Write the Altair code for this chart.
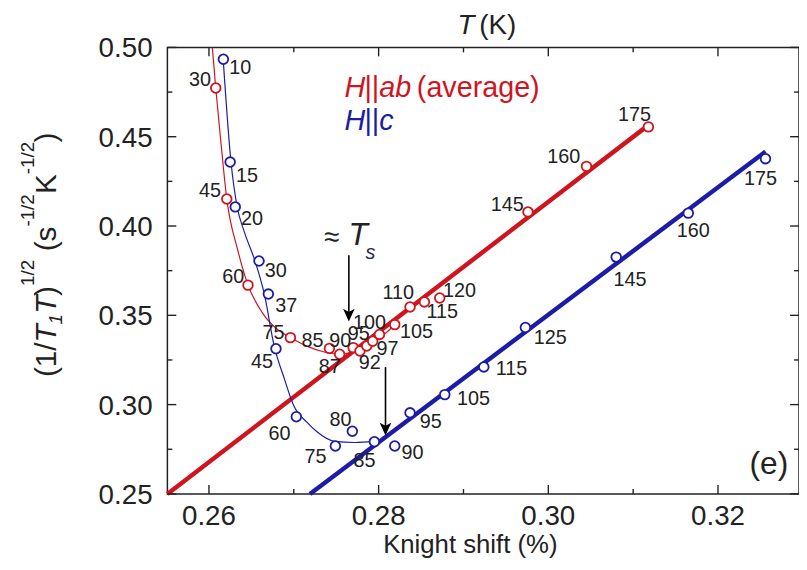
import altair as alt
import pandas as pd

# ---------------- data ----------------
# H || ab (average)
red_T = [30, 45, 60, 75, 85, 87, 90, 92, 95, 97, 100, 105, 110, 115, 120, 145, 160, 175]
red_K = [0.2608, 0.2621, 0.2646, 0.2696, 0.2742, 0.2754, 0.2770, 0.2778, 0.2786, 0.2793,
         0.2801, 0.2819, 0.2837, 0.2854, 0.2872, 0.2976, 0.3045, 0.3118]
red_R = [0.4773, 0.4151, 0.3669, 0.3375, 0.3315, 0.3282, 0.3319, 0.3300, 0.3328, 0.3355,
         0.3393, 0.3448, 0.3547, 0.3575, 0.3597, 0.4079, 0.4334, 0.4555]
# label offsets (pixels)
red_dx = [-16, -17, -15, -17, -17, -10, -13, 10, -8, 15, -10, 22, -12, 18, 20, -21, -23, -14]
red_dy = [-8, -8, -8, -5, -7, 13, -7, 12, -12, 8, -11, 8, -14, 10, -7, -7, -9, -12]

# H || c
blue_T = [10, 15, 20, 30, 37, 45, 60, 75, 80, 85, 90, 95, 105, 115, 125, 145, 160, 175]
blue_K = [0.2617, 0.2625, 0.2631, 0.2659, 0.2670, 0.2679, 0.2703, 0.2749, 0.2769, 0.2795,
          0.2819, 0.2837, 0.2878, 0.2924, 0.2973, 0.3080, 0.3165, 0.3256]
blue_R = [0.4934, 0.4358, 0.4107, 0.3804, 0.3619, 0.3313, 0.2932, 0.2768, 0.2851, 0.2792,
          0.2768, 0.2954, 0.3056, 0.3211, 0.3432, 0.3826, 0.4072, 0.4377]
blue_dx = [17, 17, 17, 17, 18, -14, -17, -20, -12, -10, 18, 21, 29, 28, 25, 14, 5, -5]
blue_dy = [9, 14, 12, 10, 12, 13, 17, 11, -11, 19, 7, 9, 4, 2, 11, 23, 18, 21]

# linear fits (end points)
red_fit_K = [0.2551, 0.3118]
red_fit_R = [0.2500, 0.4565]
blue_fit_K = [0.2719, 0.3256]
blue_fit_R = [0.2500, 0.4417]

# thin guide-to-the-eye curves
red_curve_K = [0.2604, 0.2608, 0.2614, 0.2621, 0.2634, 0.2646, 0.2663, 0.2681, 0.2696,
               0.2716, 0.2737, 0.2754, 0.2774, 0.2791, 0.2809, 0.2824]
red_curve_R = [0.5000, 0.4773, 0.4473, 0.4152, 0.3864, 0.3670, 0.3514, 0.3420, 0.3376,
               0.3326, 0.3293, 0.3282, 0.3304, 0.3348, 0.3404, 0.3465]
blue_curve_K = [0.2617, 0.2626, 0.2633, 0.2642, 0.2654, 0.2665, 0.2677, 0.2689, 0.2700,
                0.2716, 0.2727, 0.2748, 0.2772, 0.2795]
blue_curve_R = [0.4917, 0.4357, 0.4113, 0.3963, 0.3808, 0.3625, 0.3326, 0.3143, 0.2993,
                0.2899, 0.2849, 0.2794, 0.2788, 0.2794]

# arrows (x, y_start, y_head)
arrow_K = [0.27649, 0.28081]
arrow_R_top = [0.3836, 0.3210]
arrow_R_head = [0.3501, 0.2863]

# axis ticks and tick labels
x_major = [0.26, 0.28, 0.30, 0.32]
x_minor = [0.27, 0.29, 0.31]
y_major = [0.25, 0.30, 0.35, 0.40, 0.45, 0.50]
y_minor = [0.275, 0.325, 0.375, 0.425, 0.475]
x_labels = ["0.26", "0.28", "0.30", "0.32"]
y_labels = ["0.25", "0.30", "0.35", "0.40", "0.45", "0.50"]

# ---------------- styling ----------------
X_DOMAIN = [0.2551, 0.32955]
Y_DOMAIN = [0.25, 0.50]
W, H = 638, 451
RED = "#d0141e"
BLUE = "#1c1ca6"
INK = "#222222"
FONT = "Liberation Sans"

xs = alt.Scale(domain=X_DOMAIN, nice=False, zero=False)
ys = alt.Scale(domain=Y_DOMAIN, nice=False, zero=False)


def X(field):
    return alt.X(f"{field}:Q", scale=xs, axis=None)


def Y(field):
    return alt.Y(f"{field}:Q", scale=ys, axis=None)


layers = []

# thick linear fits
red_fit = pd.DataFrame({"K": red_fit_K, "R": red_fit_R})
blue_fit = pd.DataFrame({"K": blue_fit_K, "R": blue_fit_R})
layers.append(alt.Chart(red_fit).mark_line(color=RED, strokeWidth=4.5)
              .encode(x=X("K"), y=Y("R")))
layers.append(alt.Chart(blue_fit).mark_line(color=BLUE, strokeWidth=4.5)
              .encode(x=X("K"), y=Y("R")))

# thin curves
red_curve = pd.DataFrame({"K": red_curve_K, "R": red_curve_R})
blue_curve = pd.DataFrame({"K": blue_curve_K, "R": blue_curve_R})
layers.append(alt.Chart(red_curve).mark_line(color=RED, strokeWidth=1.2, interpolate="monotone", clip=True)
              .encode(x=X("K"), y=Y("R")))
layers.append(alt.Chart(blue_curve).mark_line(color=BLUE, strokeWidth=1.2, interpolate="monotone", clip=True)
              .encode(x=X("K"), y=Y("R")))

# points
red_df = pd.DataFrame({"T": red_T, "K": red_K, "R": red_R})
blue_df = pd.DataFrame({"T": blue_T, "K": blue_K, "R": blue_R})
for df, col in ((red_df, RED), (blue_df, BLUE)):
    layers.append(alt.Chart(df).mark_point(shape="circle", filled=True, fill="white",
                                           stroke=col, strokeWidth=1.8, size=95, opacity=1)
                  .encode(x=X("K"), y=Y("R")))

# point labels
for T, K, R, dxs, dys in ((red_T, red_K, red_R, red_dx, red_dy),
                          (blue_T, blue_K, blue_R, blue_dx, blue_dy)):
    for t, k, r, dx, dy in zip(T, K, R, dxs, dys):
        d = pd.DataFrame({"K": [k], "R": [r], "lab": [str(t)]})
        layers.append(alt.Chart(d).mark_text(font=FONT, fontSize=20, color=INK, align="center",
                                             baseline="middle", dx=dx, dy=dy)
                      .encode(x=X("K"), y=Y("R"), text="lab:N"))

# arrows
arr = pd.DataFrame({"K": arrow_K, "R": arrow_R_top, "R2": arrow_R_head})
layers.append(alt.Chart(arr).mark_rule(color="black", strokeWidth=1.6)
              .encode(x=X("K"), y=Y("R"), y2="R2:Q"))
layers.append(alt.Chart(arr).mark_point(shape="M0,1 L-0.9,-1 L0,-0.5 L0.9,-1 Z", filled=True,
                                        color="black", size=169, opacity=1)
              .encode(x=X("K"), y=Y("R2")))


# inward axis ticks (frame on all four sides)
def tick_layer(vals, side, length):
    d = pd.DataFrame({"v": vals})
    m = alt.Chart(d).mark_rule(color=INK, strokeWidth=1.4)
    if side == "bottom":
        return m.encode(x=X("v"), y=alt.value(H), y2=alt.value(H - length))
    if side == "top":
        return m.encode(x=X("v"), y=alt.value(0), y2=alt.value(length))
    if side == "left":
        return m.encode(y=Y("v"), x=alt.value(0), x2=alt.value(length))
    return m.encode(y=Y("v"), x=alt.value(W), x2=alt.value(W - length))


for side in ("bottom", "top"):
    layers.append(tick_layer(x_major, side, 9))
    layers.append(tick_layer(x_minor, side, 5))
for side in ("left", "right"):
    layers.append(tick_layer(y_major, side, 9))
    layers.append(tick_layer(y_minor, side, 5))

# tick labels
xl = pd.DataFrame({"v": x_major, "lab": x_labels})
yl = pd.DataFrame({"v": y_major, "lab": y_labels})
layers.append(alt.Chart(xl).mark_text(font=FONT, fontSize=28, color=INK, align="center",
                                      baseline="alphabetic")
              .encode(x=X("v"), y=alt.value(H + 31), text="lab:N"))
layers.append(alt.Chart(yl).mark_text(font=FONT, fontSize=28, color=INK, align="right",
                                      baseline="alphabetic", dy=10)
              .encode(y=Y("v"), x=alt.value(-15), text="lab:N"))


# text annotations
def ann(text, x, y, size, style="normal", color=INK, align="left", angle=0, baseline="alphabetic"):
    d = pd.DataFrame({"s": [text]})
    return (alt.Chart(d).mark_text(font=FONT, fontSize=size, fontStyle=style, color=color,
                                   align=align, baseline=baseline, angle=angle)
            .encode(x=alt.value(x), y=alt.value(y), text="s:N"))


# legend texts
layers += [
    ann("H", 179, 50, 29, "italic", RED),
    ann("||", 199, 50, 29, "normal", RED),
    ann("ab", 214, 50, 29, "italic", RED),
    ann("(average)", 252, 50, 29, "normal", RED),
    ann("H", 179, 83, 29, "italic", BLUE),
    ann("||", 199, 83, 29, "normal", BLUE),
    ann("c", 214, 83, 29, "italic", BLUE),
]
# ≈ T_s
layers += [
    ann("≈", 166, 193, 28, "normal", INK, "center", 0, "middle"),
    ann("T", 183, 200, 32, "italic", INK),
    ann("s", 200, 214, 20, "italic", "#2a2a5a"),
]
# (e)
layers.append(ann("(e)", 588, 431, 32))
# top axis title T (K)
layers += [
    ann("T", 293, -14, 28, "italic"),
    ann("(K)", 315, -14, 28),
]
# bottom axis title
layers.append(ann("Knight shift (%)", 306, 511, 26, align="center"))
# left axis title: (1/T1T)^1/2 (s^-1/2 K^-1/2), rotated
xm, xsub, xsup = -113, -106, -135
layers += [
    ann("(1/", xm, 333, 30, angle=270),
    ann("T", xm, 298, 30, "italic", angle=270),
    ann("1", xsub, 280, 19, "italic", angle=270),
    ann("T", xm, 269, 30, "italic", angle=270),
    ann(")", xm, 251, 30, angle=270),
    ann("1/2", xsup, 241, 19, angle=270),
    ann("(s", xm, 206, 30, angle=270),
    ann("-1/2", xsup, 181, 19, angle=270),
    ann("K", xm, 148, 30, angle=270),
    ann("-1/2", xsup, 128, 19, angle=270),
    ann(")", xm, 96, 30, angle=270),
]

chart = (alt.layer(*layers)
         .properties(width=W, height=H,
                     autosize=alt.AutoSizeParams(type="none"),
                     padding={"left": 161, "top": 37, "right": 0, "bottom": 70},
                     background="white")
         .configure_view(stroke=INK, strokeWidth=1.5))

chart.save("out.html", embed_options={"renderer": "svg", "actions": False})
